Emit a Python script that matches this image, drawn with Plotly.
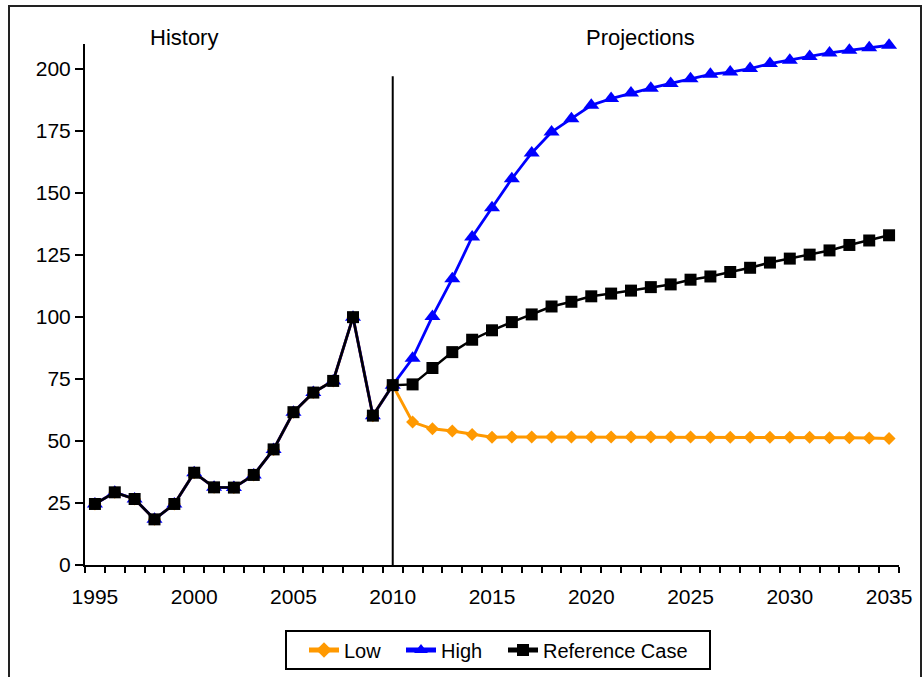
import plotly.graph_objects as go

years = list(range(1995, 2036))

history = [24.6, 29.3, 26.6, 18.4, 24.6, 37.2, 31.3, 31.2, 36.3, 46.6,
           61.6, 69.5, 74.2, 99.9, 60.2, 72.5]  # 1995-2010

low_proj = [57.6, 54.9, 54.0, 52.6, 51.5, 51.6, 51.6, 51.6, 51.6, 51.6,
            51.6, 51.6, 51.6, 51.6, 51.6, 51.5, 51.5, 51.5, 51.5, 51.5,
            51.5, 51.3, 51.3, 51.2, 51.0]  # 2011-2035
high_proj = [83.3, 100.2, 115.4, 132.2, 144.0, 155.7, 166.1, 174.5, 179.9, 185.3,
             188.0, 190.2, 192.2, 194.1, 196.0, 197.8, 198.7, 200.1, 202.1, 203.4,
             205.0, 206.4, 207.5, 208.5, 209.5]
ref_proj = [72.8, 79.4, 85.8, 90.8, 94.6, 97.9, 101.0, 104.2, 106.1, 108.3,
            109.4, 110.6, 112.0, 113.1, 115.0, 116.3, 118.1, 119.8, 121.9, 123.5,
            125.1, 126.8, 129.0, 130.8, 132.9]

low = history + low_proj
high = history + high_proj
ref = history + ref_proj

x_tick_labels = [1995, 2000, 2005, 2010, 2015, 2020, 2025, 2030, 2035]
y_ticks = [0, 25, 50, 75, 100, 125, 150, 175, 200]

FONT = "Liberation Sans, Arial, sans-serif"

# plot-area geometry (pixels) for placing paper-referenced items
L, R, T, B = 85, 25, 44, 112
PW, PH = 924 - L - R, 677 - T - B


def px_x(p):
    return (p - L) / PW


def px_y(p):
    return (677 - B - p) / PH


fig = go.Figure()
fig.add_trace(go.Scatter(x=years, y=low, name="Low", mode="lines+markers",
                         line=dict(color="#FF9900", width=3),
                         marker=dict(symbol="diamond", size=10, color="#FF9900"),
                         cliponaxis=False, legend="legend"))
fig.add_trace(go.Scatter(x=years, y=high, name="High", mode="lines+markers",
                         line=dict(color="#0000FF", width=2.8),
                         marker=dict(symbol="triangle-up", size=14, color="#0000FF"),
                         cliponaxis=False, legend="legend2"))
fig.add_trace(go.Scatter(x=years, y=ref, name="Reference Case", mode="lines+markers",
                         line=dict(color="#000000", width=2.5),
                         marker=dict(symbol="square", size=12, color="#000000"),
                         cliponaxis=False, legend="legend3"))

# 2010 divider
fig.add_shape(type="line", xref="x", yref="y", x0=2010, x1=2010, y0=0, y1=197,
              line=dict(color="black", width=2))
# outer chart border
fig.add_shape(type="rect", xref="paper", yref="paper",
              x0=px_x(9), x1=px_x(921), y0=px_y(700), y1=px_y(6),
              line=dict(color="#222222", width=2), layer="below")
# legend box
fig.add_shape(type="rect", xref="paper", yref="paper",
              x0=px_x(286), x1=px_x(710), y0=px_y(669), y1=px_y(631),
              line=dict(color="black", width=2), layer="below")

fig.add_annotation(x=1999.5, y=px_y(37.7), xref="x", yref="paper", text="History",
                   xanchor="center", yanchor="middle",
                   showarrow=False, font=dict(size=22, color="black", family=FONT))
fig.add_annotation(x=2022.5, y=px_y(37.7), xref="x", yref="paper", text="Projections",
                   xanchor="center", yanchor="middle",
                   showarrow=False, font=dict(size=22, color="black", family=FONT))

leg_common = dict(orientation="h", xanchor="left", yanchor="middle", y=px_y(650),
                  borderwidth=0, bgcolor="rgba(0,0,0,0)", font=dict(size=20),
                  itemsizing="constant")

fig.update_layout(
    width=924, height=677,
    margin=dict(l=L, r=R, t=T, b=B, autoexpand=False),
    paper_bgcolor="white", plot_bgcolor="white",
    font=dict(family=FONT, size=21, color="black"),
    showlegend=True,
    legend=dict(x=px_x(304), **leg_common),
    legend2=dict(x=px_x(401), **leg_common),
    legend3=dict(x=px_x(503), **leg_common),
    xaxis=dict(range=[1994.5, 2035.5], tickvals=x_tick_labels,
               ticks="outside", ticklen=6, tickcolor="rgba(0,0,0,0)",
               ticklabelstandoff=6,
               showline=True, linecolor="black", linewidth=2,
               showgrid=False, zeroline=False,
               minor=dict(tickvals=[y + 0.5 for y in range(1994, 2036)],
                          ticks="outside", ticklen=6, tickwidth=2, tickcolor="black",
                          showgrid=False),
               tickfont=dict(size=21, color="black")),
    yaxis=dict(range=[0, 210], tickvals=y_ticks,
               ticks="outside", ticklen=8, tickwidth=2, tickcolor="black",
               showline=True, linecolor="black", linewidth=2,
               showgrid=False, zeroline=False,
               tickfont=dict(size=21, color="black")),
)

fig.write_html("out.html", config={"displayModeBar": False},
               post_script="document.body.style.margin='0';document.body.style.overflow='hidden';")
